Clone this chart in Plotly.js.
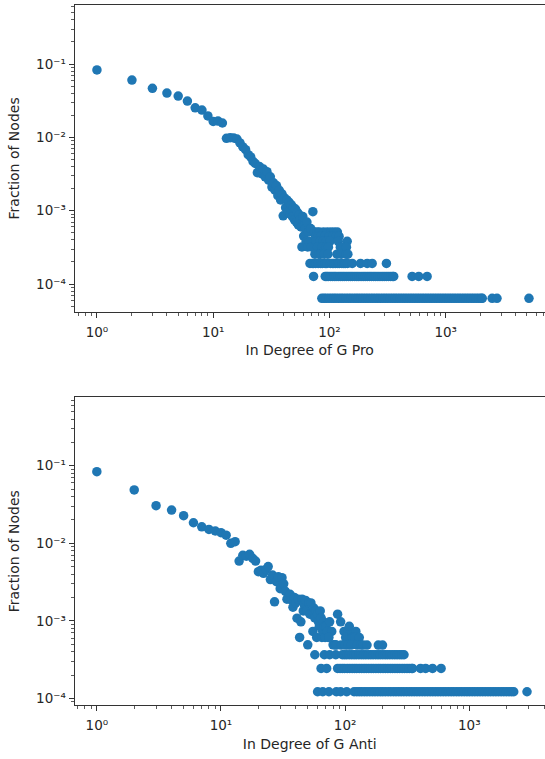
<!DOCTYPE html>
<html>
<head>
<meta charset="utf-8">
<script src="https://cdn.plot.ly/plotly-3.0.1.min.js"></script>
<style>
html, body { margin: 0; padding: 0; background: #ffffff; }
#chart { width: 545px; height: 759px; }
</style>
</head>
<body>
<div id="chart"></div>
<script>
// ---------- text ----------
const xTickVals = [1, 10, 100, 1000];
const xTickText = ['10\u2070', '10\u00b9', '10\u00b2', '10\u00b3'];
const yTickVals = [0.0001, 0.001, 0.01, 0.1];
const yTickText = ['10\u207b\u2074', '10\u207b\u00b3', '10\u207b\u00b2', '10\u207b\u00b9'];
const xTitles = ['In Degree of G Pro', 'In Degree of G Anti'];
const yTitle = 'Fraction of Nodes';

// ---------- G Pro : individual degrees ----------
const proDegree = [1,2,3,4,5,6,7,8,9,10,11,12,13,14,15,16,17,18,19,20,21,22,23,24,25,26,27,28,29,30,
  31,32,33,34,35,36,37,38,39,40,41,42,43,44,45,46,47,48,49,50,51,52,53,54,55,56,57,58,59,60,
  61,62,63,64,65,66,67,69,70,72];
const proFraction = [0.083,0.0605,0.0466,0.0402,0.0366,0.0313,0.0253,0.0236,0.0196,0.0165,0.0167,0.0157,
  0.0097,0.0099,0.0098,0.0095,0.0084,0.0074,0.0068,0.0058,0.0054,0.0047,0.0044,0.0033,0.0040,0.0032,0.0037,
  0.0029,0.0034,0.0026,0.0029,0.0021,0.0024,0.0019,0.0022,0.0016,0.0019,0.0014,0.0017,0.00085,0.0015,0.0011,
  0.0014,0.00095,0.0013,0.0009,0.0012,0.00083,0.0011,0.00075,0.00105,0.0007,0.00095,0.00064,0.00088,0.00076,
  0.0006,0.00032,0.00083,0.00045,0.00064,0.00057,0.00038,0.0007,0.00032,0.00051,0.00038,0.00057,0.00032,0.00097];
// G Pro : degrees sharing the same small node counts
const proLevel8 = 0.000510, proDeg8 = [74, 78, 82, 89, 96, 103, 110, 117];
const proLevel7 = 0.000446, proDeg7 = [76, 80, 85, 91, 99, 107, 114, 121];
const proLevel6 = 0.000382, proDeg6 = [77, 83, 88, 94, 101, 119, 142];
const proLevel5 = 0.000318, proDeg5 = [79, 86, 93, 98, 124, 130, 140];
const proLevel4 = 0.000255, proDeg4 = [75, 81, 84, 90, 97, 116, 126, 139, 144];
const proLevel3 = 0.000191, proDeg3 = [68, 71, 73, 76, 80, 84, 87, 92, 95, 102, 106, 109, 113, 118, 122, 128,
  133, 137, 143, 157, 185, 211, 233, 309];
const proLevel2 = 0.000127, proDeg2 = [73, 92, 95, 98, 102, 106, 110, 114, 119, 124, 129, 134, 140, 146, 152,
  158, 165, 172, 179, 187, 195, 203, 212, 221, 230, 240, 250, 261, 272, 284, 296, 309, 322, 336, 350, 357,
  514, 586, 692];
const proLevel1 = 0.0000637, proDeg1 = [86, 90, 94, 99, 104, 109, 114, 120, 126, 132, 139, 146, 153, 161, 169,
  177, 186, 195, 205, 215, 226, 237, 249, 261, 274, 288, 302, 317, 333, 350, 367, 385, 404, 424, 445, 467,
  491, 515, 541, 568, 596, 626, 657, 690, 725, 761, 799, 839, 881, 925, 971, 1020, 1071, 1124, 1180, 1239,
  1301, 1366, 1434, 1506, 1581, 1660, 1743, 1830, 1922, 2018, 2063, 2510, 2760, 5200];

// ---------- G Anti : individual degrees ----------
const antiDegree = [1,2,3,4,5,6,7,8,9,10,11,12,13,14,15,16,17,18,19,20,21,22,23,24,25,26,27,28,29,30,
  31,32,33,34,35,36,37,38,39,40,41,42,43,44,45,46,47,48,49,50,51,52,53,54,55,56,57,58,59,60,
  61,62,63,64,65,66,67,68,69,70,72,75,78,80,83,87,92,98,105,108,122];
const antiFraction = [0.0837,0.0487,0.0305,0.0268,0.0227,0.0184,0.0163,0.0151,0.0144,0.0137,0.0127,0.0100,
  0.0105,0.0059,0.0070,0.0068,0.0072,0.0064,0.0059,0.0043,0.0045,0.0041,0.0046,0.0050,0.0034,0.0039,0.00176,
  0.0032,0.0037,0.0026,0.0036,0.0030,0.0024,0.0019,0.0020,0.0022,0.00186,0.0015,0.0020,0.0017,0.00108,0.0019,
  0.00061,0.00097,0.0019,0.00134,0.0016,0.00183,0.00134,0.00049,0.0017,0.00122,0.0017,0.00122,0.00073,0.00146,
  0.00109,0.00134,0.00061,0.00122,0.00097,0.00085,0.00134,0.00109,0.00061,0.00073,0.00097,0.00085,0.00061,
  0.00085,0.00073,0.00097,0.00073,0.00049,0.00049,0.00122,0.00097,0.00073,0.00073,0.00085,0.00073];
// G Anti : degrees sharing the same small node counts
const antiLevel5 = 0.000608, antiDeg5 = [74, 101, 114, 120, 130];
const antiLevel4 = 0.000487, antiDeg4 = [85, 93, 100, 106, 112, 125, 134, 140, 150, 185, 200];
const antiLevel3 = 0.000365, antiDeg3 = [57, 68, 75, 84, 95, 99, 103, 108, 113, 118, 123, 129, 135, 141, 147,
  154, 161, 168, 176, 184, 192, 201, 210, 219, 229, 240, 251, 262, 274, 286, 298];
const antiLevel2 = 0.000243, antiDeg2 = [64, 71, 87, 91, 95, 99, 104, 109, 114, 119, 124, 130, 136, 142, 148,
  155, 162, 169, 177, 185, 193, 202, 211, 221, 231, 241, 252, 263, 275, 288, 301, 315, 329, 344, 349, 405,
  445, 506, 593];
const antiLevel1 = 0.0001217, antiDeg1 = [60, 66, 74, 85, 92, 103, 118, 124, 130, 136, 143, 150, 158, 166,
  174, 183, 192, 201, 211, 222, 233, 245, 257, 270, 283, 297, 312, 328, 344, 361, 379, 398, 418, 439, 461,
  484, 508, 533, 560, 588, 617, 648, 681, 715, 750, 788, 827, 869, 912, 958, 1005, 1056, 1108, 1164, 1222,
  1283, 1347, 1415, 1485, 1560, 1638, 1720, 1806, 1896, 1991, 2090, 2190, 2281, 2918];

// ---------- assemble ----------
function gather(baseX, baseY, groups) {
  let xs = baseX.slice(), ys = baseY.slice();
  groups.forEach(g => { xs = xs.concat(g[1]); ys = ys.concat(g[1].map(() => g[0])); });
  return [xs, ys];
}
const pro = gather(proDegree, proFraction, [[proLevel8, proDeg8], [proLevel7, proDeg7], [proLevel6, proDeg6],
  [proLevel5, proDeg5], [proLevel4, proDeg4], [proLevel3, proDeg3], [proLevel2, proDeg2], [proLevel1, proDeg1]]);
const anti = gather(antiDegree, antiFraction, [[antiLevel5, antiDeg5], [antiLevel4, antiDeg4],
  [antiLevel3, antiDeg3], [antiLevel2, antiDeg2], [antiLevel1, antiDeg1]]);

function minorLog(lo, hi) {
  const v = [];
  for (let e = lo; e <= hi; e++) for (let m = 2; m <= 9; m++) v.push(m * Math.pow(10, e));
  return v;
}
const minorX = minorLog(-1, 3);
const minorY = minorLog(-5, -1);

const C = '#1f77b4';
const fontFam = 'DejaVu Sans, sans-serif';
const lineC = '#333333';
const txtC = '#262626';
const traces = [
  { x: pro[0], y: pro[1], type: 'scatter', mode: 'markers', xaxis: 'x', yaxis: 'y',
    marker: { color: C, size: 9.5, line: { width: 0 } }, hoverinfo: 'skip' },
  { x: anti[0], y: anti[1], type: 'scatter', mode: 'markers', xaxis: 'x2', yaxis: 'y2',
    marker: { color: C, size: 9.5, line: { width: 0 } }, hoverinfo: 'skip' }
];

function xAxis(range, dom, title, anchor) {
  return {
    type: 'log', range: range, domain: dom, anchor: anchor,
    showline: true, linecolor: lineC, linewidth: 1, mirror: true,
    ticks: 'outside', ticklen: 5, tickwidth: 1, tickcolor: lineC,
    tickmode: 'array', tickvals: xTickVals, ticktext: xTickText, ticklabelstandoff: 3,
    minor: { tickmode: 'array', tickvals: minorX, ticks: 'outside', ticklen: 3, tickwidth: 0.8, tickcolor: lineC, showgrid: false },
    showgrid: false, zeroline: false,
    tickfont: { family: fontFam, size: 13.5, color: txtC },
    title: { text: title, font: { family: fontFam, size: 14, color: txtC }, standoff: 6 }
  };
}
function yAxis(range, dom, anchor) {
  return {
    type: 'log', range: range, domain: dom, anchor: anchor,
    showline: true, linecolor: lineC, linewidth: 1, mirror: false,
    ticks: 'outside', ticklen: 5, tickwidth: 1, tickcolor: lineC,
    tickmode: 'array', tickvals: yTickVals, ticktext: yTickText,
    minor: { tickmode: 'array', tickvals: minorY, ticks: 'outside', ticklen: 3, tickwidth: 0.8, tickcolor: lineC, showgrid: false },
    showgrid: false, zeroline: false,
    tickfont: { family: fontFam, size: 13.5, color: txtC },
    title: { text: yTitle, font: { family: fontFam, size: 14, color: txtC }, standoff: 13 }
  };
}

const layout = {
  width: 545, height: 759,
  margin: { l: 0, r: 0, t: 0, b: 0 },
  paper_bgcolor: '#ffffff', plot_bgcolor: '#ffffff',
  showlegend: false,
  font: { family: fontFam, size: 13, color: txtC },
  xaxis: xAxis([-0.193, 3.854], [0.1367, 1], xTitles[0], 'y'),
  yaxis: yAxis([-4.378, -0.195], [0.5893, 0.9934], 'x'),
  xaxis2: xAxis([-0.180, 3.610], [0.1367, 1], xTitles[1], 'y2'),
  yaxis2: yAxis([-4.086, -0.120], [0.0711, 0.4763], 'x2')
};

Plotly.newPlot('chart', traces, layout, { staticPlot: true, displayModeBar: false });
</script>
</body>
</html>
